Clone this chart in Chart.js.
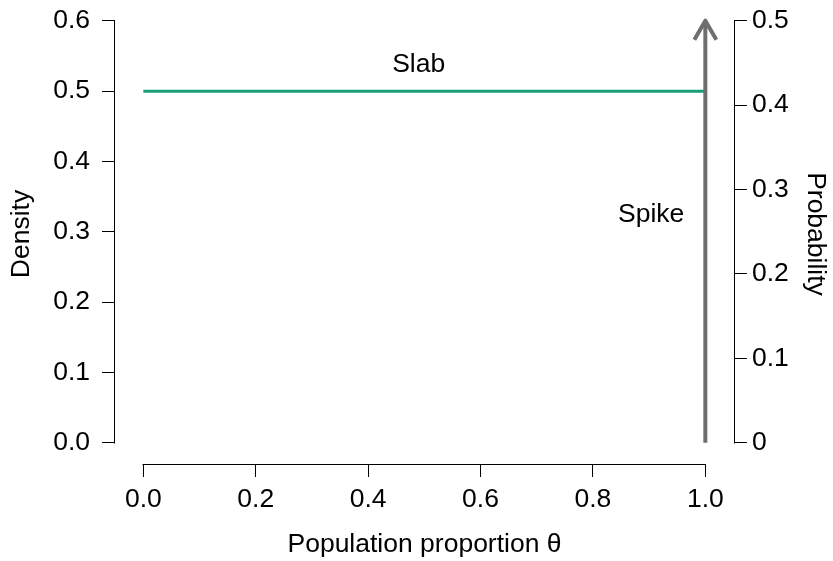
<!DOCTYPE html>
<html>
<head>
<meta charset="utf-8">
<script src="https://cdn.jsdelivr.net/npm/chart.js@4/dist/chart.umd.min.js"></script>
<style>
  html, body { margin: 0; padding: 0; background: #ffffff; }
  #wrap { width: 833px; height: 561px; }
</style>
</head>
<body>
<div id="wrap"><canvas id="c" width="833" height="561"></canvas></div>
<script>
// Tick positions for the three axes
const thetaTicks = [0, 0.2, 0.4, 0.6, 0.8, 1.0];
const densityTicks = [0, 0.1, 0.2, 0.3, 0.4, 0.5, 0.6];
const probabilityTicks = [0, 0.1, 0.2, 0.3, 0.4, 0.5];

// Slab: uniform density over theta
const slabTheta = [0, 1];
const slabDensity = [0.5, 0.5];

// Spike: point mass at theta = 1
const spikeTheta = [1, 1];
const spikeProbability = [0, 0.5];

// Text annotations (data coordinates)
const slabLabel = { text: 'Slab', theta: 0.49, density: 0.5 };
const spikeLabel = { text: 'Spike', theta: 1, probability: 0.27 };

const FONT = '"Liberation Sans", Arial, Helvetica, sans-serif';
const FONT_SIZE = 26.5;
const GREEN = '#1b9e77';
const GREY = '#6e6e6e';

Chart.defaults.font.family = FONT;
Chart.defaults.font.size = FONT_SIZE;
Chart.defaults.color = '#000000';

function toPoints(xs, ys) {
  return xs.map((x, i) => ({ x: x, y: ys[i] }));
}

function fixTicks(values) {
  return function (scale) {
    scale.ticks = values.map(v => ({ value: v }));
  };
}

// Fixed scale box size, no extra room reserved for overhanging labels
function fixSize(prop, size) {
  return function (scale) {
    scale[prop] = size;
    scale.paddingTop = 0;
    scale.paddingBottom = 0;
    scale.paddingLeft = 0;
    scale.paddingRight = 0;
  };
}

// Axis lines that run only from the first to the last tick
const rangeAxes = {
  id: 'rangeAxes',
  afterDraw(chart) {
    const ctx = chart.ctx;
    const sx = chart.scales.x, sy = chart.scales.y, sy2 = chart.scales.y2;
    ctx.save();
    ctx.strokeStyle = '#000000';
    ctx.lineWidth = 1;
    ctx.lineCap = 'butt';
    ctx.beginPath();
    // bottom
    const yb = Math.round(sx.top) + 0.5;
    ctx.moveTo(Math.round(sx.getPixelForValue(thetaTicks[0])) - 0.5, yb);
    ctx.lineTo(Math.round(sx.getPixelForValue(thetaTicks[thetaTicks.length - 1])) + 0.5, yb);
    // left
    const xl = Math.round(sy.right) - 0.5;
    ctx.moveTo(xl, Math.round(sy.getPixelForValue(densityTicks[0])) + 0.5);
    ctx.lineTo(xl, Math.round(sy.getPixelForValue(densityTicks[densityTicks.length - 1])) - 0.5);
    // right
    const xr = Math.round(sy2.left) + 0.5;
    ctx.moveTo(xr, Math.round(sy2.getPixelForValue(probabilityTicks[0])) + 0.5);
    ctx.lineTo(xr, Math.round(sy2.getPixelForValue(probabilityTicks[probabilityTicks.length - 1])) - 0.5);
    ctx.stroke();
    ctx.restore();
  }
};

// Open arrowhead on the spike and the two text labels
const annotations = {
  id: 'annotations',
  afterDatasetsDraw(chart) {
    const ctx = chart.ctx;
    const sx = chart.scales.x, sy = chart.scales.y, sy2 = chart.scales.y2;
    const meta = chart.getDatasetMeta(1);
    const tip = meta.data[meta.data.length - 1];
    ctx.save();
    ctx.strokeStyle = GREY;
    ctx.lineWidth = 4;
    ctx.lineJoin = 'round';
    ctx.lineCap = 'butt';
    ctx.beginPath();
    ctx.moveTo(tip.x - 11, tip.y + 19);
    ctx.lineTo(tip.x, tip.y);
    ctx.lineTo(tip.x + 11, tip.y + 19);
    ctx.stroke();

    ctx.fillStyle = '#000000';
    ctx.font = FONT_SIZE + 'px ' + FONT;
    ctx.textAlign = 'center';
    ctx.textBaseline = 'alphabetic';
    ctx.fillText(slabLabel.text, sx.getPixelForValue(slabLabel.theta), sy.getPixelForValue(slabLabel.density) - 19);

    ctx.textAlign = 'right';
    ctx.textBaseline = 'middle';
    ctx.fillText(spikeLabel.text, sx.getPixelForValue(spikeLabel.theta) - 21, sy2.getPixelForValue(spikeLabel.probability));
    ctx.restore();
  }
};

new Chart(document.getElementById('c'), {
  type: 'line',
  data: {
    datasets: [
      {
        label: 'Slab',
        data: toPoints(slabTheta, slabDensity),
        yAxisID: 'y',
        borderColor: GREEN,
        borderWidth: 3,
        pointRadius: 0,
        fill: false,
        order: 1,
        borderCapStyle: 'butt'
      },
      {
        label: 'Spike',
        data: toPoints(spikeTheta, spikeProbability),
        yAxisID: 'y2',
        borderColor: GREY,
        borderWidth: 4,
        pointRadius: 0,
        fill: false,
        order: 0,
        borderCapStyle: 'butt'
      }
    ]
  },
  options: {
    responsive: false,
    animation: false,
    devicePixelRatio: 1,
    layout: { padding: { top: 4, left: 0, right: 0, bottom: 0 } },
    plugins: { legend: { display: false }, tooltip: { enabled: false } },
    scales: {
      x: {
        type: 'linear',
        position: 'bottom',
        min: -0.0504,
        max: 1.051,
        afterBuildTicks: fixTicks(thetaTicks),
        afterFit: fixSize('height', 97),
        border: { display: false },
        grid: { drawOnChartArea: false, drawTicks: true, tickLength: 13, color: '#000000', lineWidth: 1 },
        ticks: { padding: 6.6, maxRotation: 0, autoSkip: false, callback: v => v.toFixed(1) },
        title: { display: true, text: 'Population proportion θ', padding: { top: 0, bottom: 0 } }
      },
      y: {
        type: 'linear',
        position: 'left',
        min: -0.0303,
        max: 0.6240,
        afterBuildTicks: fixTicks(densityTicks),
        afterFit: fixSize('width', 115),
        border: { display: false },
        grid: { drawOnChartArea: false, drawTicks: true, tickLength: 13, color: '#000000', lineWidth: 1 },
        ticks: { padding: 12, autoSkip: false, callback: v => v.toFixed(1) },
        title: { display: true, text: 'Density', padding: { top: 6, bottom: 0 } }
      },
      y2: {
        type: 'linear',
        position: 'right',
        min: -0.0252,
        max: 0.5198,
        afterBuildTicks: fixTicks(probabilityTicks),
        afterFit: fixSize('width', 99),
        border: { display: false },
        grid: { drawOnChartArea: false, drawTicks: true, tickLength: 13, color: '#000000', lineWidth: 1 },
        ticks: { padding: 5, autoSkip: false, callback: v => (v === 0 ? '0' : v.toFixed(1)) },
        title: { display: true, text: 'Probability', padding: { top: 2, bottom: 0 } }
      }
    }
  },
  plugins: [rangeAxes, annotations]
});
</script>
</body>
</html>
